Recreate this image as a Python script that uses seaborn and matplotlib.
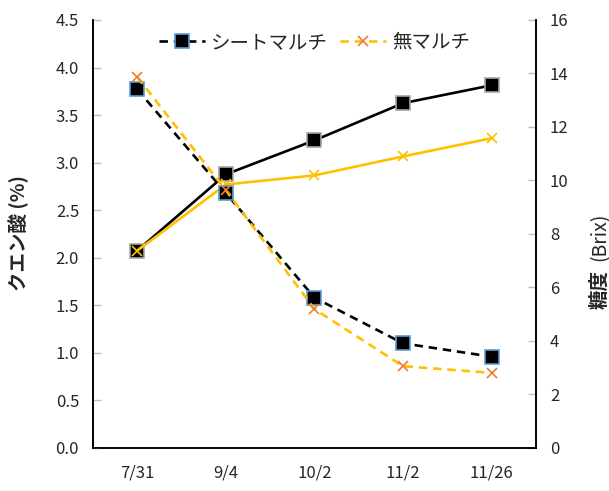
import matplotlib
matplotlib.use("Agg")
import matplotlib.pyplot as plt
from matplotlib.lines import Line2D
import seaborn as sns
import pandas as pd
import numpy as np

sns.set_theme(style="white")
plt.rcParams["font.family"] = ["Noto Sans CJK JP", "DejaVu Sans"]

dates = ["7/31", "9/4", "10/2", "11/2", "11/26"]
series_names = ["シートマルチ", "無マルチ"]

# Citric acid (%) — left axis, dashed
acid_sheet = [3.77, 2.68, 1.58, 1.10, 0.96]
acid_none = [3.90, 2.71, 1.46, 0.86, 0.79]

# Sugar content (Brix) — right axis, solid
brix_sheet = [7.38, 10.23, 11.50, 12.89, 13.56]
brix_none = [7.38, 9.85, 10.19, 10.90, 11.58]

left_ticks = [0.0, 0.5, 1.0, 1.5, 2.0, 2.5, 3.0, 3.5, 4.0, 4.5]
right_ticks = [0, 2, 4, 6, 8, 10, 12, 14, 16]

BLACK = "#000000"
GOLD = "#FFC000"
ORANGE = "#ED7D31"
BLUE = "#5B9BD5"
GREY = "#A5A5A5"

pos = np.arange(len(dates))
df = pd.DataFrame({
    "pos": pos,
    "acid_sheet": acid_sheet, "acid_none": acid_none,
    "brix_sheet": brix_sheet, "brix_none": brix_none,
})

fig = plt.figure(figsize=(6.09, 4.91), dpi=100)
ax = fig.add_axes([0.1527, 0.0876, 0.7274, 0.8717])
ax2 = ax.twinx()

lw = 1.9
# Brix lines (solid)
sns.lineplot(data=df, x="pos", y="brix_sheet", ax=ax2, color=BLACK, lw=lw,
             marker="s", markersize=10, markerfacecolor=BLACK,
             markeredgecolor=GREY, markeredgewidth=1.2)
sns.lineplot(data=df, x="pos", y="brix_none", ax=ax2, color=GOLD, lw=lw,
             marker="x", markersize=7, markeredgecolor=GOLD,
             markeredgewidth=1.2)

# Citric acid lines (dashed)
dash = (3.2, 2.2)
sns.lineplot(data=df, x="pos", y="acid_sheet", ax=ax, color=BLACK, lw=lw,
             marker="s", markersize=10, markerfacecolor=BLACK,
             markeredgecolor=BLUE, markeredgewidth=1.2)
sns.lineplot(data=df, x="pos", y="acid_none", ax=ax, color=GOLD, lw=lw,
             marker="x", markersize=7, markeredgecolor=ORANGE,
             markeredgewidth=1.2)
for ln in ax.get_lines():
    ln.set_dashes(dash)

# put the left axis (dashed lines) on top
ax.set_zorder(ax2.get_zorder() + 1)
ax.patch.set_visible(False)

ax.set_xlim(-0.5, len(dates) - 0.5)
ax.set_ylim(0, 4.5)
ax2.set_ylim(0, 16)

ax.set_yticks(left_ticks)
ax.set_yticklabels([f"{t:.1f}" for t in left_ticks], fontsize=12)
ax2.set_yticks(right_ticks)
ax2.set_yticklabels([str(t) for t in right_ticks], fontsize=12)

ax.set_xticks(pos)
ax.set_xticklabels(dates, fontsize=12)
ax.set_xticks(np.arange(-0.5, len(dates)), minor=True)
ax.tick_params(axis="x", which="major", length=0, pad=12)
ax.tick_params(axis="x", which="minor", length=6, width=1, color="#BFBFBF",
               direction="out")
ax.tick_params(axis="y", length=6, width=1, color="#BFBFBF",
               direction="in", pad=10, left=True)
ax2.tick_params(axis="y", length=6, width=1, color="#BFBFBF",
                direction="in", pad=10, right=True)

for a in (ax, ax2):
    a.set_xlabel("")
    a.set_ylabel("")
    a.spines["top"].set_visible(False)
    for s in ("left", "right", "bottom"):
        a.spines[s].set_color("black")
        a.spines[s].set_linewidth(1.2)
    a.grid(False)

fig.text(0.030, 0.525, "クエン酸 (%)", rotation=90, ha="center", va="center",
         fontsize=14, fontweight="bold")
fig.text(0.985, 0.410, "糖度", rotation=90, ha="center", va="center",
         fontsize=14, fontweight="bold")
fig.text(0.985, 0.518, "(Brix)", rotation=90, ha="center", va="center",
         fontsize=14)

handles = [
    Line2D([], [], color=BLACK, lw=lw, dashes=dash, marker="s", markersize=10,
           markerfacecolor=BLACK, markeredgecolor=BLUE, markeredgewidth=1.2),
    Line2D([], [], color=GOLD, lw=lw, dashes=dash, marker="x", markersize=7,
           markeredgecolor=ORANGE, markeredgewidth=1.2),
]
ax.legend(handles, series_names, loc="upper center", bbox_to_anchor=(0.5, 1.0),
          ncol=2, frameon=False, fontsize=14, handlelength=2.4,
          handletextpad=0.3, columnspacing=0.6, borderaxespad=0.2)

fig.savefig("out.png", dpi=100)
